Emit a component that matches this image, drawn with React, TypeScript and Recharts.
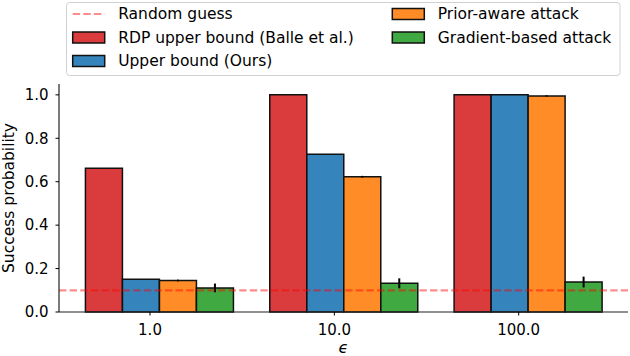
import React from 'react'
import { BarChart, Bar, XAxis, YAxis, ReferenceLine, ErrorBar, Legend } from 'recharts'

const CATEGORIES = ['1.0', '10.0', '100.0']
const RDP_BOUND = [0.662, 1.0, 1.0]
const OUR_BOUND = [0.151, 0.726, 1.0]
const PRIOR_ATTACK = [0.145, 0.623, 0.995]
const PRIOR_ERR = [0.004, 0.004, 0.003]
const GRAD_ATTACK = [0.111, 0.132, 0.138]
const GRAD_ERR = [0.02, 0.023, 0.025]
const RANDOM_GUESS = 0.1
const Y_TICKS = [0, 0.2, 0.4, 0.6, 0.8, 1.0]

const SERIES = [
  { key: 'rdp', name: 'RDP upper bound (Balle et al.)', color: '#d62728' },
  { key: 'ours', name: 'Upper bound (Ours)', color: '#1f77b4' },
  { key: 'prior', name: 'Prior-aware attack', color: '#ff7f0e', err: 'priorErr' },
  { key: 'grad', name: 'Gradient-based attack', color: '#2ca02c', err: 'gradErr' },
]

const FONT = '"DejaVu Sans", sans-serif'
const SPINE = '#222'

const data = CATEGORIES.map((cat, i) => ({
  cat,
  pos: i,
  rdp: RDP_BOUND[i],
  ours: OUR_BOUND[i],
  prior: PRIOR_ATTACK[i],
  priorErr: PRIOR_ERR[i],
  grad: GRAD_ATTACK[i],
  gradErr: GRAD_ERR[i],
}))

// legend is laid out like matplotlib's ncol=2 (column-major)
function renderLegend() {
  const entries = [
    { name: 'Random guess', color: 'red', dashed: true },
    ...SERIES.map((s) => ({ name: s.name, color: s.color, dashed: false })),
  ]
  const colX = [72.7, 392.3]
  const rowY = [14, 37.5, 61]
  return (
    <svg width={630} height={80} style={{ display: 'block' }}>
      <rect x={66.5} y={2.5} width={553.5} height={73} rx={3} fill="#fff" fillOpacity={0.8} stroke="#d0d0d0" />
      {entries.map((e, i) => {
        const x = colX[Math.floor(i / 3)]
        const y = rowY[i % 3]
        return (
          <g key={e.name}>
            {e.dashed ? (
              <line x1={x} x2={x + 32} y1={y} y2={y} stroke="red" strokeOpacity={0.45} strokeWidth={2.2} strokeDasharray="7.4 3.2" />
            ) : (
              <rect x={x} y={y - 5.5} width={32} height={11} fill={e.color} fillOpacity={0.9} stroke="#111" strokeWidth={1.5} />
            )}
            <text x={x + 45.5} y={y} dominantBaseline="central" fontSize={15.5} fontFamily={FONT} fill="#000">
              {e.name}
            </text>
          </g>
        )
      })}
    </svg>
  )
}

export default function App() {
  return (
    <div style={{ position: 'absolute', left: 0, top: 0, width: 630, height: 356, background: '#fff' }}>
      <BarChart
        width={630}
        height={356}
        data={data}
        margin={{ top: 84, right: 2, bottom: 0, left: 0 }}
        barCategoryGap="10%"
        barGap={0}
      >
        <XAxis
          xAxisId="bars"
          dataKey="cat"
          orientation="top"
          height={0}
          tick={false}
          tickLine={false}
          axisLine={{ stroke: SPINE, strokeWidth: 1.2 }}
          padding={{ left: 8, right: 8 }}
        />
        <XAxis
          xAxisId="eps"
          dataKey="pos"
          type="number"
          domain={[-0.4937, 2.593]}
          allowDataOverflow
          ticks={[0, 1, 2]}
          tickFormatter={(v: number) => CATEGORIES[v]}
          height={44}
          tickSize={3.5}
          tickMargin={9}
          tick={{ fontSize: 15, fontFamily: FONT, fill: '#000' }}
          tickLine={{ stroke: '#000' }}
          axisLine={{ stroke: SPINE, strokeWidth: 1.2 }}
          label={{
            value: 'ϵ',
            position: 'insideBottom',
            offset: 3,
            fontSize: 16,
            fontStyle: 'italic',
            fontFamily: FONT,
            fill: '#000',
          }}
        />
        <YAxis
          yAxisId="left"
          domain={[0, 1.05]}
          ticks={Y_TICKS}
          tickFormatter={(v: number) => v.toFixed(1)}
          width={59}
          tickSize={3.5}
          tickMargin={7}
          tick={{ fontSize: 15, fontFamily: FONT, fill: '#000' }}
          tickLine={{ stroke: '#000' }}
          axisLine={{ stroke: SPINE, strokeWidth: 1.2 }}
          label={{
            value: 'Success probability',
            angle: -90,
            position: 'center',
            dx: -21.5,
            fontSize: 15.5,
            fontFamily: FONT,
            fill: '#000',
          }}
        />
        <YAxis
          yAxisId="right"
          orientation="right"
          domain={[0, 1.05]}
          width={0}
          tick={false}
          tickLine={false}
          axisLine={{ stroke: SPINE, strokeWidth: 1.2 }}
        />
        {SERIES.map((s) => (
          <Bar
            key={s.key}
            xAxisId="bars"
            yAxisId="left"
            dataKey={s.key}
            name={s.name}
            fill={s.color}
            fillOpacity={0.9}
            stroke="#111"
            strokeWidth={1.5}
            isAnimationActive={false}
          >
            {s.err && <ErrorBar dataKey={s.err} width={0} stroke="#000" strokeWidth={2} direction="y" />}
          </Bar>
        ))}
        <ReferenceLine
          xAxisId="eps"
          yAxisId="left"
          y={RANDOM_GUESS}
          stroke="red"
          strokeOpacity={0.45}
          strokeWidth={2.2}
          strokeDasharray="7.4 3.2"
        />
        <Legend
          layout="horizontal"
          verticalAlign="middle"
          align="center"
          wrapperStyle={{ top: 0, left: 0, width: 630, height: 80 }}
          content={renderLegend}
        />
      </BarChart>
    </div>
  )
}
